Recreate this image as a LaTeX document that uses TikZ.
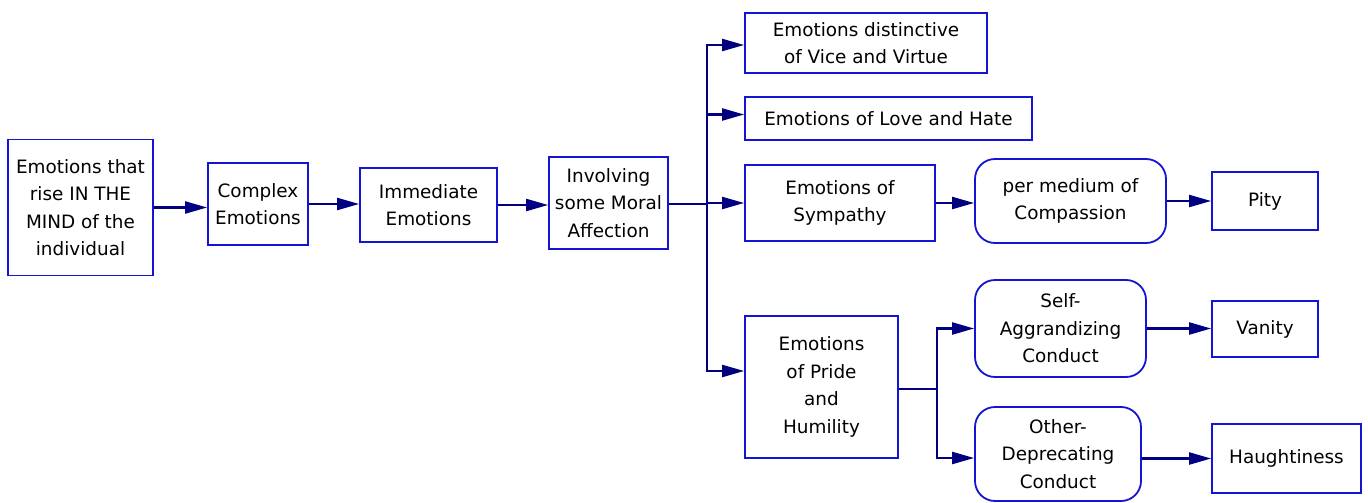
\documentclass[tikz,border=0pt]{standalone}
\usepackage{fontspec}
\setmainfont{DejaVu Sans}
\usetikzlibrary{arrows.meta}
\definecolor{boxblue}{RGB}{20,20,210}
\definecolor{linknavy}{RGB}{0,0,128}
\tikzset{
  box/.style={draw=boxblue, line width=1.8pt, inner sep=0pt, align=center,
    font=\fontsize{18.4}{27.5}\selectfont, text=black},
  roundbox/.style={box, rounded corners=20pt},
  conn/.style={draw=linknavy, line width=2.2pt,
    -{Triangle[length=22pt,width=12pt]}},
  trunk/.style={draw=linknavy, line width=2.2pt}
}
\begin{document}
\begin{tikzpicture}[x=1pt,y=-1pt]
\useasboundingbox (0,0) rectangle (1368,503);

% main chain
\node[box, minimum width=145pt, minimum height=136pt] (n1) at (80.5,207.5)
  {Emotions that\\rise IN THE\\MIND of the\\individual};
\node[box, minimum width=100pt, minimum height=82pt] (n2) at (258,204)
  {Complex\\Emotions};
\node[box, minimum width=137pt, minimum height=74pt] (n3) at (428.5,205)
  {Immediate\\Emotions};
\node[box, minimum width=119pt, minimum height=92pt] (n4) at (608.5,203)
  {Involving\\some Moral\\Affection};

% branches of moral affection
\node[box, minimum width=242pt, minimum height=60pt] (n5) at (866,43)
  {Emotions distinctive\\of Vice and Virtue};
\node[box, minimum width=287pt, minimum height=43pt] (n6) at (888.5,118.5)
  {Emotions of Love and Hate};
\node[box, minimum width=190pt, minimum height=76pt] (n7) at (840,203)
  {Emotions of\\Sympathy};
\node[box, minimum width=153pt, minimum height=142pt] (n8) at (821.5,387)
  {Emotions\\of Pride\\and\\Humility};

% further consequences
\node[roundbox, minimum width=191pt, minimum height=84pt] (n9) at (1070.5,201)
  {per medium of\\Compassion};
\node[box, minimum width=106pt, minimum height=58pt] (n10) at (1265,201)
  {Pity};
\node[roundbox, minimum width=171pt, minimum height=97pt] (n11) at (1060.5,328.5)
  {Self-\\Aggrandizing\\Conduct};
\node[box, minimum width=106pt, minimum height=56pt] (n12) at (1265,329)
  {Vanity};
\node[roundbox, minimum width=166pt, minimum height=94pt] (n13) at (1058,454)
  {Other-\\Deprecating\\Conduct};
\node[box, minimum width=149pt, minimum height=69pt] (n14) at (1286.5,458.5)
  {Haughtiness};

% connectors along the chain
\draw[conn] (n1.east) -- (n1.east -| n2.west);
\draw[conn] (n2.east) -- (n2.east -| n3.west);
\draw[conn] (n3.east) -- (n3.east -| n4.west);

% fan-out from moral affection
\coordinate (tr) at (707,204);
\draw[trunk] (n4.east |- tr) -- (tr);
\draw[conn] (tr) |- ([yshift=-2pt]n5.west);
\draw[conn] (tr) |- ([yshift=4pt]n6.west);
\draw[conn] (tr) |- (n7.west);
\draw[conn] (tr) |- ([yshift=16pt]n8.west);

% fan-out from pride and humility
\coordinate (sp) at (937,389);
\draw[trunk] (n8.east |- sp) -- (sp);
\draw[conn] (sp) |- (n11.west);
\draw[conn] (sp) |- ([yshift=-4pt]n13.west);

% last steps
\draw[conn] (n7.east) -- (n7.east -| n9.west);
\draw[conn] (n9.east) -- (n9.east -| n10.west);
\draw[conn] (n11.east) -- (n11.east -| n12.west);
\draw[conn] (n14.west -| n13.east) -- (n14.west);
\end{tikzpicture}
\end{document}
